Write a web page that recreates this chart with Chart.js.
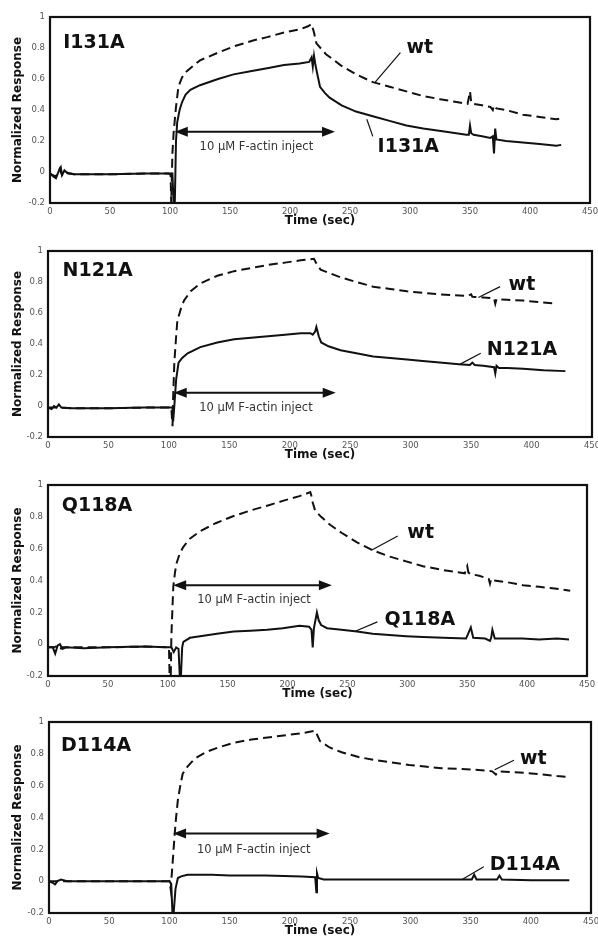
<!DOCTYPE html>
<html>
<head>
<meta charset="utf-8">
<script src="https://cdn.jsdelivr.net/npm/chart.js@4.4.0/dist/chart.umd.min.js"></script>
<style>
body { margin: 0; background: #fff; width: 598px; height: 947px; position: relative; overflow: hidden; }
canvas { position: absolute; left: 0; }
</style>
</head>
<body>
<canvas id="p1"></canvas>
<canvas id="p2"></canvas>
<canvas id="p3"></canvas>
<canvas id="p4"></canvas>
<script>
// axis ticks
var timeTicks = [0, 50, 100, 150, 200, 250, 300, 350, 400, 450];
var respTicks = [-0.2, 0, 0.2, 0.4, 0.6, 0.8, 1];

// I131A panel
var i131aWtTime = [0, 5, 8, 10, 12, 20, 50, 80, 99, 100.5, 101, 101.5, 102, 103, 105, 107, 110, 114, 120, 125, 140, 153, 170, 181, 195, 208, 215, 218, 220, 222, 230, 242, 255, 269, 283, 297, 311, 325, 340, 348, 350, 351, 352, 360, 367, 369, 370, 372, 380, 394, 408, 422, 425];
var i131aWtResp = [-0.01, -0.03, 0.02, -0.02, 0, -0.015, -0.015, -0.01, -0.01, -0.02, -0.2, -0.05, 0.12, 0.25, 0.42, 0.55, 0.61, 0.65, 0.69, 0.72, 0.77, 0.81, 0.85, 0.87, 0.9, 0.92, 0.94, 0.955, 0.9, 0.83, 0.76, 0.69, 0.63, 0.58, 0.55, 0.52, 0.49, 0.47, 0.45, 0.44, 0.52, 0.45, 0.44, 0.43, 0.42, 0.4, 0.43, 0.41, 0.4, 0.37, 0.355, 0.34, 0.345];
var i131aMutTime = [0, 3, 5, 7, 9, 10, 12, 15, 20, 50, 80, 100, 102, 103, 104, 104.5, 105, 106, 108, 110, 113, 117, 125, 140, 153, 167, 181, 195, 208, 216, 218, 219, 220, 221, 222, 225, 229, 233, 243, 255, 269, 283, 297, 311, 330, 347, 349, 350, 351, 353, 360, 367, 369, 370, 371, 372, 380, 394, 408, 422, 426];
var i131aMutResp = [-0.01, -0.03, -0.04, 0, 0.03, -0.02, 0.01, -0.01, -0.015, -0.015, -0.01, -0.01, -0.01, -0.2, -0.2, 0, 0.2, 0.32, 0.4, 0.45, 0.5, 0.53, 0.56, 0.6, 0.63, 0.65, 0.67, 0.69, 0.7, 0.71, 0.74, 0.68, 0.75, 0.7, 0.66, 0.55, 0.51, 0.48, 0.43, 0.39, 0.36, 0.33, 0.3, 0.28, 0.26, 0.24, 0.24, 0.3, 0.25, 0.24, 0.23, 0.22, 0.23, 0.12, 0.28, 0.21, 0.2, 0.19, 0.18, 0.17, 0.175];

// N121A panel
var n121aWtTime = [0, 5, 10, 20, 50, 80, 100, 102, 103, 103.5, 104.5, 106, 107, 110, 112.5, 118, 126, 140, 154, 168, 182, 196, 209, 220, 222, 225.5, 232, 242, 255, 269, 283, 297, 310, 324, 347, 350, 351, 360, 369, 370, 371, 380, 393, 407, 421];
var n121aWtResp = [-0.01, -0.01, -0.01, -0.015, -0.015, -0.01, -0.01, -0.01, -0.13, 0.05, 0.28, 0.45, 0.55, 0.63, 0.68, 0.74, 0.79, 0.84, 0.87, 0.89, 0.91, 0.925, 0.94, 0.95, 0.92, 0.88, 0.86, 0.83, 0.8, 0.77, 0.755, 0.74, 0.73, 0.72, 0.71, 0.72, 0.705, 0.7, 0.695, 0.66, 0.69, 0.685, 0.68, 0.67, 0.66];
var n121aMutTime = [0, 3, 5, 7, 9, 11, 20, 50, 80, 100, 103, 103.5, 104.5, 106, 108, 111, 115.5, 126, 140, 154, 168, 182, 196, 209, 217, 219, 221, 222, 224, 226, 232, 242, 255, 269, 283, 297, 310, 324, 340, 349, 351, 353, 360, 369, 370, 371, 373, 380, 393, 410, 428];
var n121aMutResp = [-0.01, -0.02, 0, -0.01, 0.01, -0.01, -0.015, -0.015, -0.01, -0.01, -0.01, -0.1, 0, 0.17, 0.28, 0.31, 0.34, 0.38, 0.41, 0.43, 0.44, 0.45, 0.46, 0.47, 0.47, 0.46, 0.48, 0.51, 0.45, 0.41, 0.385, 0.36, 0.34, 0.32, 0.31, 0.3, 0.29, 0.28, 0.27, 0.265, 0.28, 0.265, 0.26, 0.25, 0.21, 0.26, 0.245, 0.245, 0.24, 0.23, 0.225];

// Q118A panel
var q118aWtTime = [0, 5, 8, 10, 12, 20, 50, 80, 100, 101, 101.5, 102.5, 103, 104.6, 106, 107.4, 110, 112.9, 118, 127, 140, 155, 169, 183, 196, 210, 219, 220, 221, 223, 228, 235.5, 245, 258, 271, 285.5, 299, 313, 330, 348, 350, 351, 353, 360, 368, 369, 370, 372, 383, 396.5, 410, 423, 436];
var q118aWtResp = [-0.02, -0.02, -0.01, -0.03, -0.02, -0.02, -0.02, -0.015, -0.02, -0.02, -0.2, -0.2, 0.05, 0.36, 0.45, 0.51, 0.57, 0.61, 0.66, 0.71, 0.76, 0.805, 0.84, 0.87, 0.9, 0.93, 0.955, 0.93, 0.89, 0.84, 0.8, 0.75, 0.7, 0.64, 0.59, 0.55, 0.52, 0.49, 0.465, 0.445, 0.49, 0.45, 0.44, 0.43, 0.41, 0.38, 0.41, 0.4, 0.39, 0.37, 0.36, 0.35, 0.335];
var q118aMutTime = [0, 4, 6, 8, 10, 12, 15, 30, 50, 80, 100, 103, 105, 107, 109, 110, 111, 112, 113, 118.5, 127, 141, 155, 169, 183, 196, 210, 218, 220, 221, 222, 224.5, 226, 228, 233, 245, 258, 271, 285, 299, 313, 330, 349, 351, 353, 355, 365, 369, 370, 371, 373, 383, 396, 410, 425, 435];
var q118aMutResp = [-0.02, -0.02, -0.06, -0.01, 0, -0.03, -0.02, -0.025, -0.02, -0.015, -0.02, -0.02, -0.05, -0.02, -0.03, -0.2, -0.2, -0.02, 0.015, 0.04, 0.05, 0.065, 0.08, 0.085, 0.09, 0.1, 0.115, 0.11, 0.09, -0.02, 0.1, 0.2, 0.15, 0.12, 0.1, 0.09, 0.08, 0.065, 0.057, 0.05, 0.045, 0.04, 0.035, 0.07, 0.105, 0.04, 0.035, 0.02, 0.04, 0.09, 0.035, 0.035, 0.035, 0.03, 0.035, 0.03];

// D114A panel
var d114aWtTime = [0, 5, 20, 50, 80, 100, 101, 102, 104.4, 105.5, 107, 109, 111, 115, 121, 130, 140.5, 154, 168, 189, 210, 221, 222, 225, 233, 243, 257, 271, 285, 299, 312, 326, 340, 354, 368, 371, 373, 385, 396, 410, 422, 432];
var d114aWtResp = [0, 0, 0, 0, 0, 0, -0.05, 0.05, 0.3, 0.4, 0.51, 0.6, 0.675, 0.72, 0.77, 0.81, 0.84, 0.87, 0.89, 0.91, 0.93, 0.945, 0.93, 0.88, 0.84, 0.81, 0.78, 0.76, 0.745, 0.73, 0.72, 0.71, 0.705, 0.7, 0.69, 0.67, 0.69, 0.685, 0.68, 0.67, 0.66, 0.655];
var d114aMutTime = [0, 3, 5, 7, 10, 15, 30, 50, 80, 100, 101.5, 102.5, 103.5, 105, 107, 109.7, 115, 130, 135, 150, 180, 210, 221, 222, 222.5, 223.5, 228, 260, 300, 340, 351, 353, 355, 372, 374, 376, 400, 432];
var d114aMutResp = [0, -0.01, -0.02, 0, 0.01, 0, 0, 0, 0, 0, -0.02, -0.2, -0.2, -0.05, 0.02, 0.03, 0.04, 0.04, 0.04, 0.035, 0.035, 0.03, 0.025, -0.07, 0.05, 0.02, 0.01, 0.01, 0.01, 0.01, 0.01, 0.04, 0.01, 0.01, 0.035, 0.01, 0.005, 0.005];

var FONT = "'DejaVu Sans', Verdana, sans-serif";

function pts(ts, vs) {
    var out = [];
    for (var i = 0; i < ts.length; i++) out.push({ x: ts[i], y: vs[i] });
    return out;
}

// frame, labels, arrows drawn on top of the chart area
var marksPlugin = {
    id: 'marks',
    afterDatasetsDraw: function (chart, args, o) {
        var ctx = chart.ctx, a = chart.chartArea;
        var xs = chart.scales.x, ys = chart.scales.y;
        var X = function (v) { return xs.getPixelForValue(v); };
        var Y = function (v) { return ys.getPixelForValue(v); };
        ctx.save();
        ctx.strokeStyle = '#111';
        ctx.lineWidth = 2.2;
        ctx.strokeRect(a.left, a.top, a.right - a.left, a.bottom - a.top);

        ctx.fillStyle = '#111';
        ctx.textBaseline = 'middle';
        ctx.textAlign = 'left';
        ctx.font = 'bold 19px ' + FONT;
        ctx.fillText(o.name[0], X(o.name[1]), Y(o.name[2]));
        o.labels.forEach(function (l) {
            ctx.fillText(l.text, X(l.at[0]), Y(l.at[1]));
            ctx.lineWidth = 1.2;
            ctx.beginPath();
            ctx.moveTo(X(l.from[0]), Y(l.from[1]));
            ctx.lineTo(X(l.to[0]), Y(l.to[1]));
            ctx.stroke();
        });

        // double arrow
        var x1 = X(o.arrow[0]), x2 = X(o.arrow[1]), y = Y(o.arrow[2]);
        ctx.lineWidth = 2;
        ctx.beginPath();
        ctx.moveTo(x1 + 8, y);
        ctx.lineTo(x2 - 8, y);
        ctx.stroke();
        ctx.beginPath();
        ctx.moveTo(x1, y); ctx.lineTo(x1 + 13, y - 5); ctx.lineTo(x1 + 13, y + 5); ctx.closePath();
        ctx.moveTo(x2, y); ctx.lineTo(x2 - 13, y - 5); ctx.lineTo(x2 - 13, y + 5); ctx.closePath();
        ctx.fill();

        ctx.fillStyle = '#333';
        ctx.font = '11.5px ' + FONT;
        ctx.textAlign = 'center';
        ctx.fillText('10 \u03BCM F-actin inject', X(o.note[0]), Y(o.note[1]));
        ctx.restore();
    }
};

function makePanel(id, frame, wt, mut, marks) {
    var cv = document.getElementById(id);
    var h = (frame.b - frame.t) + 10 + 28;
    cv.width = 598; cv.height = h;
    cv.style.top = (frame.t - 10) + 'px';
    return new Chart(cv, {
        type: 'line',
        data: {
            datasets: [
                { label: 'mutant', data: mut, borderColor: '#111', borderWidth: 2, pointRadius: 0, tension: 0, fill: false },
                { label: 'wt', data: wt, borderColor: '#111', borderWidth: 2, borderDash: [9, 5], pointRadius: 0, tension: 0, fill: false }
            ]
        },
        options: {
            responsive: false,
            animation: false,
            layout: { padding: { top: 10, right: 598 - frame.r, left: 0, bottom: 0 } },
            plugins: { legend: { display: false }, tooltip: { enabled: false }, marks: marks },
            scales: {
                x: {
                    type: 'linear', min: 0, max: 450,
                    afterBuildTicks: function (s) { s.ticks = timeTicks.map(function (v) { return { value: v }; }); },
                    afterFit: function (s) { s.height = 28; s.paddingLeft = 0; s.paddingRight = 0; },
                    grid: { display: false, drawTicks: false },
                    border: { display: false },
                    ticks: { color: '#555', font: { family: FONT, size: 8.5 }, padding: 4, maxRotation: 0, autoSkip: false },
                    title: { display: true, text: 'Time (sec)', color: '#111', font: { family: FONT, size: 12, weight: 'bold' }, padding: { top: 0, bottom: 3 } }
                },
                y: {
                    min: -0.2, max: 1,
                    afterBuildTicks: function (s) { s.ticks = respTicks.map(function (v) { return { value: v }; }); },
                    afterFit: function (s) { s.width = frame.l; s.paddingTop = 0; s.paddingBottom = 0; },
                    grid: { display: false, drawTicks: false },
                    border: { display: false },
                    ticks: { color: '#555', font: { family: FONT, size: 8.5 }, padding: 5, autoSkip: false,
                        callback: function (v) { return String(Math.round(v * 10) / 10); } },
                    title: { display: true, text: 'Normalized Response', color: '#111', font: { family: FONT, size: 12, weight: 'bold' }, padding: { top: 11, bottom: 0 } }
                }
            }
        },
        plugins: [marksPlugin]
    });
}

makePanel('p1', { l: 50, r: 590, t: 17, b: 203 },
    pts(i131aWtTime, i131aWtResp), pts(i131aMutTime, i131aMutResp),
    { name: ['I131A', 11, 0.83], arrow: [104, 237.5, 0.26], note: [172, 0.16],
      labels: [{ text: 'wt', at: [297, 0.8], from: [292, 0.77], to: [271, 0.58] },
               { text: 'I131A', at: [273, 0.16], from: [269, 0.23], to: [264, 0.34] }] });

makePanel('p2', { l: 48, r: 592, t: 251, b: 437 },
    pts(n121aWtTime, n121aWtResp), pts(n121aMutTime, n121aMutResp),
    { name: ['N121A', 12, 0.87], arrow: [104, 238, 0.086], note: [172, -0.013],
      labels: [{ text: 'wt', at: [381, 0.78], from: [374, 0.77], to: [356, 0.7] },
               { text: 'N121A', at: [363, 0.36], from: [358, 0.34], to: [341, 0.27] }] });

makePanel('p3', { l: 48, r: 587, t: 485, b: 676 },
    pts(q118aWtTime, q118aWtResp), pts(q118aMutTime, q118aMutResp),
    { name: ['Q118A', 11.5, 0.87], arrow: [104.5, 237, 0.37], note: [172, 0.28],
      labels: [{ text: 'wt', at: [300, 0.7], from: [292, 0.68], to: [270, 0.59] },
               { text: 'Q118A', at: [281, 0.15], from: [275, 0.14], to: [256, 0.08] }] });

makePanel('p4', { l: 49, r: 591, t: 722, b: 913 },
    pts(d114aWtTime, d114aWtResp), pts(d114aMutTime, d114aMutResp),
    { name: ['D114A', 10, 0.85], arrow: [103, 233, 0.3], note: [170, 0.196],
      labels: [{ text: 'wt', at: [391, 0.77], from: [386, 0.76], to: [370, 0.7] },
               { text: 'D114A', at: [366, 0.1], from: [361, 0.09], to: [343, 0.01] }] });
</script>
</body>
</html>
